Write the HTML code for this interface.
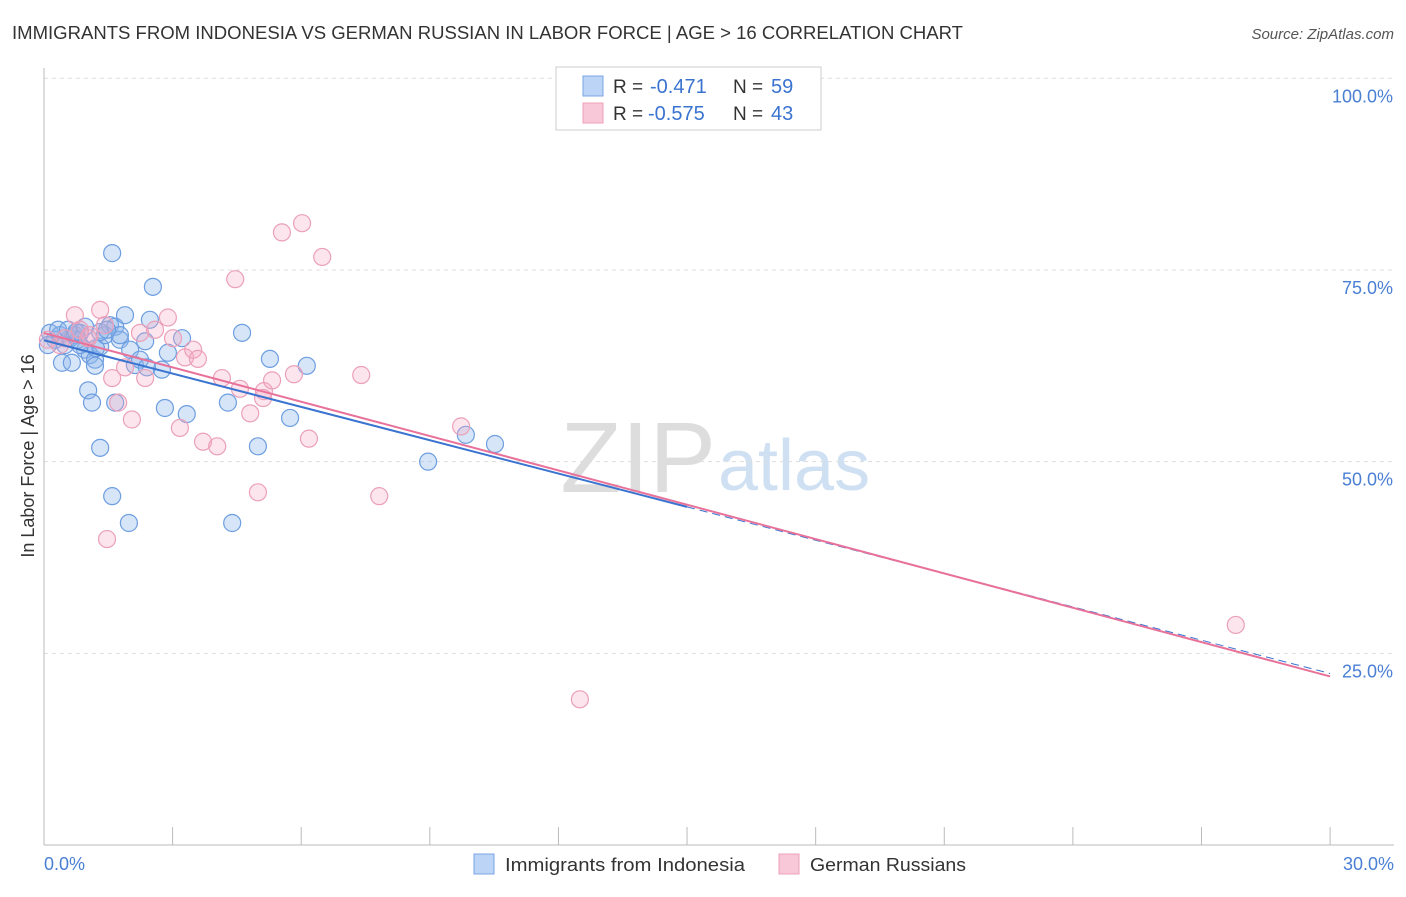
<!DOCTYPE html>
<html><head><meta charset="utf-8"><style>
body{margin:0;background:#fff;font-family:"Liberation Sans",sans-serif;}
svg text{font-family:"Liberation Sans",sans-serif;}
</style></head><body>
<svg width="1406" height="892" xmlns="http://www.w3.org/2000/svg">
<text x="12" y="39" font-size="18" fill="#333" textLength="951" lengthAdjust="spacingAndGlyphs">IMMIGRANTS FROM INDONESIA VS GERMAN RUSSIAN IN LABOR FORCE | AGE &gt; 16 CORRELATION CHART</text>
<text x="1394" y="39" font-size="15" fill="#555" font-style="italic" text-anchor="end">Source: ZipAtlas.com</text>
<text x="716" y="492" font-size="100" fill="#ddd" font-family="Liberation Serif" text-anchor="end">ZIP</text>
<text x="718" y="490" font-size="72" fill="#cfe0f3">atlas</text>
<g id="grid"></g>
<line x1="44" y1="68" x2="44" y2="845" stroke="#bbb"/>
<line x1="44" y1="845" x2="1394" y2="845" stroke="#bbb"/>
<text transform="translate(34,456) rotate(-90)" font-size="18" fill="#333" text-anchor="middle">In Labor Force | Age &gt; 16</text>
<text x="44" y="870" font-size="18" fill="#4a7fd4">0.0%</text>
<text x="1394" y="870" font-size="18" fill="#4a7fd4" text-anchor="end">30.0%</text>
<g id="ticks"></g>
<g id="pts"></g>
<g id="lines"></g>
<g>
<rect x="556" y="67" width="265" height="63" fill="#fff" stroke="#ccc"/>
<rect x="583" y="76" width="20" height="20" fill="#bcd4f5" stroke="#7aa6e6"/>
<rect x="583" y="103" width="20" height="20" fill="#f8c8d8" stroke="#eea0b8"/>
<text x="613" y="93" font-size="19" fill="#333">R =</text>
<text x="650" y="93" font-size="20" fill="#3a74d0">-0.471</text>
<text x="733" y="93" font-size="19" fill="#333">N =</text>
<text x="771" y="93" font-size="20" fill="#3a74d0">59</text>
<text x="613" y="120" font-size="19" fill="#333">R =</text>
<text x="648" y="120" font-size="20" fill="#3a74d0">-0.575</text>
<text x="733" y="120" font-size="19" fill="#333">N =</text>
<text x="771" y="120" font-size="20" fill="#3a74d0">43</text>
</g>
<g>
<rect x="474" y="854" width="20" height="20" fill="#bcd4f5" stroke="#7aa6e6"/>
<text x="505" y="871" font-size="18" fill="#333" textLength="240" lengthAdjust="spacingAndGlyphs">Immigrants from Indonesia</text>
<rect x="779" y="854" width="20" height="20" fill="#f8c8d8" stroke="#eea0b8"/>
<text x="810" y="871" font-size="18" fill="#333" textLength="156" lengthAdjust="spacingAndGlyphs">German Russians</text>
</g>
</svg>
<script>
const yTicks=[100,75,50,25];
const yTickLabels=["100.0%","75.0%","50.0%","25.0%"];
const xTicks=[0,3,6,9,12,15,18,21,24,27,30];
const blueX=[0.14,0.26,0.37,0.49,0.09,0.61,0.72,0.84,0.96,1.07,1.19,1.31,1.42,1.54,1.66,1.77,1.89,2.01,2.12,2.24,2.36,2.47,2.54,1.59,1.03,1.12,1.31,1.59,1.98,1.66,2.75,2.82,2.89,3.22,3.33,4.29,4.62,4.99,4.39,5.27,5.74,6.13,8.96,9.84,10.52,0.42,0.65,1.19,2.40,0.79,0.33,0.56,0.84,1.31,1.77,1.47,1.21,0.96,0.75];
const blueY=[66.8,65.9,66.5,65.2,65.2,66.1,66.5,66.8,64.6,63.9,63.3,65.0,66.5,67.8,67.6,65.9,69.1,64.6,62.6,63.3,65.7,68.5,72.8,77.2,59.3,57.7,51.8,45.5,42.0,57.7,62.0,57.0,64.2,66.1,56.2,57.7,66.8,52.0,42.0,63.4,55.7,62.5,50.0,53.5,52.3,62.9,62.9,62.5,62.3,65.9,67.2,67.2,65.2,66.9,66.5,67.2,64.8,67.6,66.9];
const pinkX=[0.09,0.37,0.72,0.84,1.07,1.31,1.42,1.59,1.73,1.89,2.05,2.24,2.36,2.59,2.89,3.01,3.17,3.29,3.48,3.59,3.71,4.04,4.15,4.46,4.57,4.81,4.99,5.13,5.32,5.55,5.83,6.02,6.18,6.49,7.40,7.82,9.73,1.47,12.50,27.80,5.11,1.03,0.49];
const pinkY=[65.9,65.2,69.1,67.2,66.5,69.8,67.8,60.9,57.7,62.3,55.5,66.8,60.9,67.2,68.8,66.1,54.4,63.6,64.6,63.4,52.6,52.0,60.9,73.8,59.5,56.3,46.0,59.2,60.6,79.9,61.4,81.1,53.0,76.7,61.3,45.5,54.6,39.9,19.0,28.7,58.3,66.1,66.1];
const xs=v=>44+v*42.87, ys=v=>845-v*7.667;
const NS="http://www.w3.org/2000/svg";
function mk(t,a,p){const e=document.createElementNS(NS,t);for(const k in a)e.setAttribute(k,a[k]);p.appendChild(e);return e;}
const g=document.getElementById('grid');
yTicks.forEach((v,i)=>{
 const l=mk('line',{x1:44,x2:1394,y1:ys(v),y2:ys(v),stroke:'#ddd','stroke-dasharray':'4,4'},g);
 
 
 const t=mk('text',{x:1393,y:ys(v)+24,'font-size':18,fill:'#4a7fd4','text-anchor':'end'},g);
 t.textContent=yTickLabels[i];
 
 
});
const tk=document.getElementById('ticks');
xTicks.forEach(v=>{
 const l=mk('line',{x1:xs(v),x2:xs(v),y1:827,y2:845,stroke:'#bbb'},tk);
 
 
});
const pg=document.getElementById('pts');
blueX.forEach((x,i)=>{
 const c=mk('circle',{cx:xs(x),cy:ys(blueY[i]),r:8.5,fill:'rgba(140,180,235,0.35)',stroke:'#6d9ee0','stroke-width':1.2},pg);
 
 
});
pinkX.forEach((x,i)=>{
 const c=mk('circle',{cx:xs(x),cy:ys(pinkY[i]),r:8.5,fill:'rgba(245,170,195,0.3)',stroke:'#eba0b8','stroke-width':1.2},pg);
 
 
});
function fit(X,Y){const n=X.length;let mx=0,my=0;X.forEach((x,i)=>{mx+=x;my+=Y[i]});mx/=n;my/=n;let sxy=0,sxx=0;X.forEach((x,i)=>{sxy+=(x-mx)*(Y[i]-my);sxx+=(x-mx)**2});const b=sxy/sxx;return[my-b*mx,b];}
const lg=document.getElementById('lines');
const [ba,bb]=fit(blueX,blueY),[pa,pb]=fit(pinkX,pinkY);
let l=mk('line',{x1:xs(0),y1:ys(ba),x2:xs(15),y2:ys(ba+bb*15),stroke:'#3a74d0','stroke-width':2},lg);


l=mk('line',{x1:xs(15),y1:ys(ba+bb*15),x2:xs(30),y2:ys(ba+bb*30),stroke:'#3a74d0','stroke-width':1,'stroke-dasharray':'8,5'},lg);


l=mk('line',{x1:xs(0),y1:ys(pa),x2:xs(30),y2:ys(pa+pb*30),stroke:'#e8719a','stroke-width':2},lg);


</script>
</body></html>
